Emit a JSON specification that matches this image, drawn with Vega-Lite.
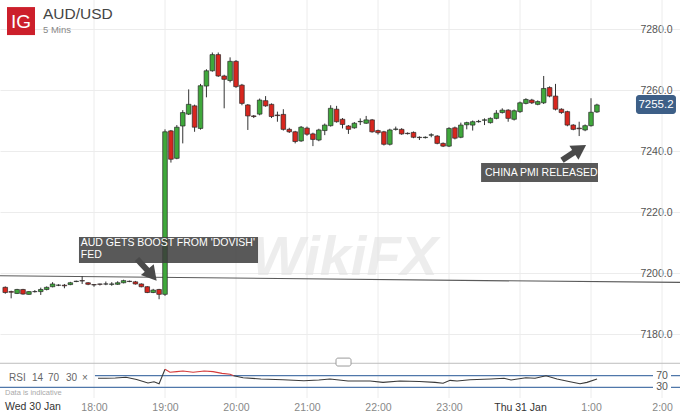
{
"$schema":"https://vega.github.io/schema/vega-lite/v6.json",
"width":680,"height":398,"padding":{"left":0,"top":0,"right":0,"bottom":17},"autosize":{"type":"none"},
"background":"#ffffff",
"config":{"view":{"stroke":null},"font":"Liberation Sans"},
"datasets":{
"candles":[
{"m":-15,"o":7195.3,"h":7195.6,"l":7193.2,"c":7193.6},
{"m":-10,"o":7193.9,"h":7194.2,"l":7191.7,"c":7193.7},
{"m":-5,"o":7193.3,"h":7194.8,"l":7193.1,"c":7194.6},
{"m":0,"o":7194.6,"h":7194.8,"l":7192.9,"c":7193.1},
{"m":5,"o":7193.0,"h":7194.0,"l":7192.9,"c":7193.9},
{"m":10,"o":7193.9,"h":7194.4,"l":7193.6,"c":7193.9},
{"m":15,"o":7193.9,"h":7195.2,"l":7192.8,"c":7194.6},
{"m":20,"o":7194.6,"h":7195.6,"l":7194.3,"c":7195.3},
{"m":25,"o":7195.5,"h":7197.0,"l":7195.3,"c":7196.4},
{"m":30,"o":7196.0,"h":7196.3,"l":7195.7,"c":7196.0},
{"m":35,"o":7196.0,"h":7196.4,"l":7195.0,"c":7195.8},
{"m":40,"o":7196.2,"h":7197.1,"l":7196.0,"c":7196.8},
{"m":45,"o":7197.2,"h":7197.5,"l":7197.0,"c":7197.3},
{"m":50,"o":7197.5,"h":7199.0,"l":7196.4,"c":7197.4},
{"m":55,"o":7196.8,"h":7197.0,"l":7196.0,"c":7196.3},
{"m":60,"o":7196.2,"h":7196.3,"l":7195.5,"c":7196.1},
{"m":65,"o":7196.4,"h":7196.5,"l":7195.9,"c":7196.3},
{"m":70,"o":7196.4,"h":7197.2,"l":7196.0,"c":7196.4},
{"m":75,"o":7196.3,"h":7197.0,"l":7195.8,"c":7196.4},
{"m":80,"o":7196.3,"h":7197.3,"l":7196.1,"c":7196.8},
{"m":85,"o":7196.8,"h":7197.8,"l":7196.6,"c":7197.5},
{"m":90,"o":7197.3,"h":7197.5,"l":7197.0,"c":7197.2},
{"m":95,"o":7197.1,"h":7197.4,"l":7196.2,"c":7196.4},
{"m":100,"o":7196.4,"h":7196.6,"l":7195.3,"c":7195.5},
{"m":105,"o":7195.5,"h":7195.7,"l":7193.4,"c":7193.6},
{"m":110,"o":7193.6,"h":7194.8,"l":7193.4,"c":7194.4},
{"m":115,"o":7194.6,"h":7194.8,"l":7191.4,"c":7193.0},
{"m":120,"o":7193.0,"h":7247.1,"l":7192.5,"c":7246.3},
{"m":125,"o":7246.6,"h":7246.9,"l":7236.2,"c":7237.3},
{"m":130,"o":7237.6,"h":7248.5,"l":7237.3,"c":7247.8},
{"m":135,"o":7248.2,"h":7253.4,"l":7242.5,"c":7252.6},
{"m":140,"o":7252.1,"h":7260.2,"l":7251.8,"c":7255.3},
{"m":145,"o":7254.8,"h":7255.2,"l":7246.3,"c":7247.8},
{"m":150,"o":7247.4,"h":7262.0,"l":7247.0,"c":7261.4},
{"m":155,"o":7261.3,"h":7266.8,"l":7257.6,"c":7266.3},
{"m":160,"o":7266.3,"h":7272.3,"l":7266.0,"c":7271.6},
{"m":165,"o":7271.6,"h":7272.3,"l":7264.3,"c":7264.6},
{"m":170,"o":7264.6,"h":7265.0,"l":7254.0,"c":7263.5},
{"m":175,"o":7263.1,"h":7270.7,"l":7262.5,"c":7269.4},
{"m":180,"o":7269.4,"h":7269.8,"l":7260.7,"c":7261.1},
{"m":185,"o":7261.6,"h":7262.0,"l":7255.0,"c":7255.6},
{"m":190,"o":7255.1,"h":7255.4,"l":7246.9,"c":7251.5},
{"m":195,"o":7251.5,"h":7251.8,"l":7250.8,"c":7251.3},
{"m":200,"o":7252.1,"h":7257.2,"l":7251.7,"c":7256.7},
{"m":205,"o":7256.5,"h":7258.0,"l":7254.5,"c":7254.8},
{"m":210,"o":7255.3,"h":7255.6,"l":7250.8,"c":7251.3},
{"m":215,"o":7251.8,"h":7252.9,"l":7249.6,"c":7251.6},
{"m":220,"o":7252.0,"h":7253.7,"l":7246.7,"c":7247.1},
{"m":225,"o":7247.1,"h":7247.6,"l":7245.9,"c":7246.3},
{"m":230,"o":7246.3,"h":7246.6,"l":7242.5,"c":7243.1},
{"m":235,"o":7243.3,"h":7248.2,"l":7243.0,"c":7247.8},
{"m":240,"o":7247.5,"h":7248.0,"l":7245.0,"c":7245.5},
{"m":245,"o":7245.6,"h":7246.0,"l":7241.6,"c":7243.8},
{"m":250,"o":7243.6,"h":7247.3,"l":7243.2,"c":7246.9},
{"m":255,"o":7246.7,"h":7249.0,"l":7245.2,"c":7248.5},
{"m":260,"o":7248.3,"h":7255.0,"l":7248.0,"c":7254.0},
{"m":265,"o":7253.7,"h":7254.8,"l":7249.3,"c":7249.6},
{"m":270,"o":7250.4,"h":7250.8,"l":7247.4,"c":7248.7},
{"m":275,"o":7248.2,"h":7248.5,"l":7245.6,"c":7247.1},
{"m":280,"o":7247.6,"h":7249.5,"l":7247.3,"c":7249.1},
{"m":285,"o":7249.6,"h":7250.7,"l":7248.5,"c":7249.7},
{"m":290,"o":7249.1,"h":7251.5,"l":7248.9,"c":7250.2},
{"m":295,"o":7250.2,"h":7250.5,"l":7246.0,"c":7246.3},
{"m":300,"o":7246.7,"h":7247.0,"l":7245.4,"c":7246.0},
{"m":305,"o":7246.3,"h":7246.6,"l":7241.8,"c":7242.2},
{"m":310,"o":7242.2,"h":7247.3,"l":7241.8,"c":7246.9},
{"m":315,"o":7247.1,"h":7248.0,"l":7246.7,"c":7247.2},
{"m":320,"o":7247.1,"h":7247.5,"l":7245.3,"c":7245.6},
{"m":325,"o":7245.8,"h":7246.1,"l":7245.4,"c":7245.7},
{"m":330,"o":7246.1,"h":7246.4,"l":7244.2,"c":7244.5},
{"m":335,"o":7244.5,"h":7244.8,"l":7243.6,"c":7244.4},
{"m":340,"o":7244.4,"h":7244.8,"l":7244.1,"c":7244.5},
{"m":345,"o":7245.2,"h":7245.8,"l":7244.5,"c":7245.3},
{"m":350,"o":7244.9,"h":7245.2,"l":7242.2,"c":7242.5},
{"m":355,"o":7242.5,"h":7242.8,"l":7241.3,"c":7241.6},
{"m":360,"o":7241.6,"h":7247.8,"l":7241.3,"c":7247.4},
{"m":365,"o":7247.6,"h":7248.0,"l":7243.8,"c":7244.2},
{"m":370,"o":7244.5,"h":7249.3,"l":7244.2,"c":7248.5},
{"m":375,"o":7248.6,"h":7249.6,"l":7247.1,"c":7249.3},
{"m":380,"o":7248.5,"h":7250.0,"l":7246.7,"c":7249.6},
{"m":385,"o":7249.6,"h":7250.2,"l":7249.3,"c":7249.7},
{"m":390,"o":7250.1,"h":7250.7,"l":7248.5,"c":7250.2},
{"m":395,"o":7249.3,"h":7251.0,"l":7249.0,"c":7250.7},
{"m":400,"o":7250.7,"h":7253.4,"l":7250.4,"c":7252.4},
{"m":405,"o":7252.6,"h":7254.0,"l":7252.3,"c":7253.4},
{"m":410,"o":7253.4,"h":7253.7,"l":7249.6,"c":7250.7},
{"m":415,"o":7250.4,"h":7253.6,"l":7250.0,"c":7253.2},
{"m":420,"o":7252.9,"h":7256.2,"l":7252.5,"c":7255.8},
{"m":425,"o":7255.6,"h":7257.3,"l":7255.3,"c":7256.9},
{"m":430,"o":7256.7,"h":7257.1,"l":7255.4,"c":7255.8},
{"m":435,"o":7255.3,"h":7256.6,"l":7255.0,"c":7256.2},
{"m":440,"o":7255.8,"h":7264.6,"l":7255.4,"c":7260.5},
{"m":445,"o":7260.8,"h":7261.2,"l":7257.6,"c":7258.0},
{"m":450,"o":7258.0,"h":7262.0,"l":7253.3,"c":7253.7},
{"m":455,"o":7253.7,"h":7254.0,"l":7252.2,"c":7252.6},
{"m":460,"o":7252.9,"h":7253.2,"l":7248.1,"c":7248.5},
{"m":465,"o":7248.5,"h":7248.8,"l":7246.8,"c":7247.1},
{"m":470,"o":7247.5,"h":7249.6,"l":7244.9,"c":7247.3},
{"m":475,"o":7246.9,"h":7248.7,"l":7246.5,"c":7248.3},
{"m":480,"o":7248.3,"h":7257.3,"l":7248.0,"c":7252.7},
{"m":485,"o":7252.8,"h":7255.5,"l":7252.5,"c":7255.1}
]},
"encoding":{"x":{"field":"m","type":"quantitative","scale":{"domain":[-19.44,555.2],"nice":false,"zero":false,"padding":0},"axis":{"values":[60,120,180,240,300,360,420,480,540],"labelExpr":"datum.value == 420 ? 'Thu 31 Jan' : ((floor(datum.value/60)+17)%24) + ':00'","grid":false,"domain":false,"ticks":false,"tickSize":0,"labelPadding":9,"labelBaseline":"middle","labelFontSize":10.5,"labelColor":{"condition":{"test":"datum.value == 420","value":"#333333"},"value":"#888888"},"labelFlush":false,"title":null}}},
"layer":[
{"data":{"values":[{"m":60},{"m":120},{"m":180},{"m":240},{"m":300},{"m":360},{"m":420},{"m":480},{"m":540}]},"mark":{"type":"rule","color":"#ececec","strokeWidth":1}},
{"data":{"values":[{"m":-19.44,"p":7199.1},{"m":555.2,"p":7196.9}]},"mark":{"type":"line","color":"#5a5a5a","strokeWidth":1.2},
 "encoding":{"y":{"field":"p","type":"quantitative","scale":{"domain":[7180,7280],"range":[334,29],"nice":false,"zero":false,"padding":0},"axis":{"orient":"right","values":[7180,7200,7220,7240,7260,7280],"format":".1f","grid":true,"gridColor":"#ececec","domain":false,"ticks":false,"tickSize":0,"labelAlign":"right","labelPadding":-8,"labelBaseline":"middle","labelFontSize":10.5,"labelColor":"#555555","title":null}}}},
{"data":{"values":[{"m":272,"p":7204.9,"t":"WikiFX"}]},"mark":{"type":"text","fontSize":56,"fontWeight":"bold","fontStyle":"italic","color":"#e2e2e2","opacity":0.6,"align":"center","baseline":"middle"},
 "encoding":{"y":{"field":"p","type":"quantitative","scale":{"domain":[7180,7280],"range":[334,29],"nice":false,"zero":false,"padding":0},"axis":null},"text":{"field":"t"}}},
{"data":{"name":"candles"},"mark":{"type":"rule","color":"#333333","strokeWidth":1},
 "encoding":{"y":{"field":"l","type":"quantitative","scale":{"domain":[7180,7280],"range":[334,29],"nice":false,"zero":false,"padding":0},"axis":null},"y2":{"field":"h"}}},
{"data":{"name":"candles"},"mark":{"type":"bar","size":4.6,"stroke":"#2a2a2a","strokeWidth":0.7},
 "encoding":{"y":{"field":"o","type":"quantitative","scale":{"domain":[7180,7280],"range":[334,29],"nice":false,"zero":false,"padding":0},"axis":null},"y2":{"field":"c"},
  "color":{"condition":{"test":"datum.c >= datum.o","value":"#3fa83b"},"value":"#d8261e"}}},
{"data":{"values":[{"m":47.3,"m2":198.6,"p":7211.8,"p2":7203.3},{"m":387.1,"m2":485.9,"p":7236.1,"p2":7229.8}]},"mark":{"type":"rect","color":"#3c3c3c","opacity":0.85},
 "encoding":{"x2":{"field":"m2"},"y":{"field":"p","type":"quantitative","scale":{"domain":[7180,7280],"range":[334,29],"nice":false,"zero":false,"padding":0},"axis":null},"y2":{"field":"p2"}}},
{"data":{"values":[{"m":48.8,"p":7209.8,"t":"AUD GETS BOOST FROM 'DOVISH'"},{"m":48.8,"p":7205.8,"t":"FED"},{"m":390.4,"p":7232.95,"t":"CHINA PMI RELEASED"}]},
 "mark":{"type":"text","fontSize":10.5,"color":"#ffffff","align":"left","baseline":"middle"},
 "encoding":{"y":{"field":"p","type":"quantitative","scale":{"domain":[7180,7280],"range":[334,29],"nice":false,"zero":false,"padding":0},"axis":null},"text":{"field":"t"}}},
{"data":{"values":[{"m":96.3,"p":7204.6,"a":"1"},{"m":106.5,"p":7200.3,"a":"1"},{"m":455.5,"p":7237.0,"a":"2"},{"m":467.3,"p":7240.0,"a":"2"}]},
 "mark":{"type":"line","color":"#4a4a4a","strokeWidth":6},
 "encoding":{"y":{"field":"p","type":"quantitative","scale":{"domain":[7180,7280],"range":[334,29],"nice":false,"zero":false,"padding":0},"axis":null},"detail":{"field":"a"}}},
{"data":{"values":[{"m":109,"p":7199.3}]},"mark":{"type":"point","shape":"triangle-up","filled":true,"size":280,"angle":140,"color":"#4a4a4a","opacity":1},
 "encoding":{"y":{"field":"p","type":"quantitative","scale":{"domain":[7180,7280],"range":[334,29],"nice":false,"zero":false,"padding":0},"axis":null}}},
{"data":{"values":[{"m":470.7,"p":7240.7}]},"mark":{"type":"point","shape":"triangle-up","filled":true,"size":280,"angle":57,"color":"#4a4a4a","opacity":1},
 "encoding":{"y":{"field":"p","type":"quantitative","scale":{"domain":[7180,7280],"range":[334,29],"nice":false,"zero":false,"padding":0},"axis":null}}},
{"data":{"values":[{"m":518.0,"m2":551.8,"p":7258.4,"p2":7252.1}]},"mark":{"type":"rect","color":"#3d5f87","cornerRadius":3},
 "encoding":{"x2":{"field":"m2"},"y":{"field":"p","type":"quantitative","scale":{"domain":[7180,7280],"range":[334,29],"nice":false,"zero":false,"padding":0},"axis":null},"y2":{"field":"p2"}}},
{"data":{"values":[{"m":534.9,"p":7255.2,"t":"7255.2"}]},"mark":{"type":"text","fontSize":11.5,"color":"#ffffff","align":"center","baseline":"middle"},
 "encoding":{"y":{"field":"p","type":"quantitative","scale":{"domain":[7180,7280],"range":[334,29],"nice":false,"zero":false,"padding":0},"axis":null},"text":{"field":"t"}}},
{"data":{"values":[{"m":-1.7,"p":7282.6}]},"mark":{"type":"point","shape":"square","filled":true,"size":784,"color":"#cc1f2b","opacity":1},
 "encoding":{"y":{"field":"p","type":"quantitative","scale":{"domain":[7180,7280],"range":[334,29],"nice":false,"zero":false,"padding":0},"axis":null}}},
{"data":{"values":[{"m":-1.7,"p":7282.4,"t":"IG"}]},"mark":{"type":"text","fontSize":19,"color":"#ffffff","align":"center","baseline":"middle"},
 "encoding":{"y":{"field":"p","type":"quantitative","scale":{"domain":[7180,7280],"range":[334,29],"nice":false,"zero":false,"padding":0},"axis":null},"text":{"field":"t"}}},
{"data":{"values":[{"m":16.9,"p":7284.9,"t":"AUD/USD"}]},"mark":{"type":"text","fontSize":15.5,"color":"#444444","align":"left","baseline":"middle"},
 "encoding":{"y":{"field":"p","type":"quantitative","scale":{"domain":[7180,7280],"range":[334,29],"nice":false,"zero":false,"padding":0},"axis":null},"text":{"field":"t"}}},
{"data":{"values":[{"m":16.9,"p":7279.7,"t":"5 Mins"}]},"mark":{"type":"text","fontSize":9.5,"color":"#888888","align":"left","baseline":"middle"},
 "encoding":{"y":{"field":"p","type":"quantitative","scale":{"domain":[7180,7280],"range":[334,29],"nice":false,"zero":false,"padding":0},"axis":null},"text":{"field":"t"}}},
{"data":{"values":[{"m":-19.44,"m2":555.2,"p":7170.4}]},"mark":{"type":"rule","color":"#bdbdbd","strokeWidth":1},
 "encoding":{"x2":{"field":"m2"},"y":{"field":"p","type":"quantitative","scale":{"domain":[7180,7280],"range":[334,29],"nice":false,"zero":false,"padding":0},"axis":null}}},
{"data":{"values":[{"m":264.5,"m2":277.2,"p":7172.1,"p2":7169.5}]},"mark":{"type":"rect","fill":"#ffffff","stroke":"#9a9a9a","strokeWidth":1,"cornerRadius":2},
 "encoding":{"x2":{"field":"m2"},"y":{"field":"p","type":"quantitative","scale":{"domain":[7180,7280],"range":[334,29],"nice":false,"zero":false,"padding":0},"axis":null},"y2":{"field":"p2"}}},
{"data":{"values":[{"m":-15.2,"p":7156.1,"t":"Wed 30 Jan"}]},"mark":{"type":"text","fontSize":10.5,"color":"#333333","align":"left","baseline":"middle"},
 "encoding":{"y":{"field":"p","type":"quantitative","scale":{"domain":[7180,7280],"range":[334,29],"nice":false,"zero":false,"padding":0},"axis":null},"text":{"field":"t"}}},
{"data":{"values":[{"m":60.8,"m2":555.2,"r":70},{"m":-19.44,"m2":555.2,"r":30}]},"mark":{"type":"rule","color":"#4f77aa","strokeWidth":1.2},
 "encoding":{"x2":{"field":"m2"},"y":{"field":"r","type":"quantitative","scale":{"domain":[30,70],"range":[387.3,375.7],"nice":false,"zero":false,"padding":0},"axis":null}}},
{"data":{"values":[{"m":532.4,"m2":547.6,"r":64,"r2":76},{"m":532.4,"m2":547.6,"r":24,"r2":36}]},"mark":{"type":"rect","color":"#ffffff"},
 "encoding":{"x2":{"field":"m2"},"y":{"field":"r","type":"quantitative","scale":{"domain":[30,70],"range":[387.3,375.7],"nice":false,"zero":false,"padding":0},"axis":null},"y2":{"field":"r2"}}},
{"data":{"values":[
{"m":63.4,"r":61,"s":"a"},{"m":70,"r":61,"s":"a"},{"m":78,"r":62,"s":"a"},{"m":87,"r":64.5,"s":"a"},{"m":96,"r":57,"s":"a"},{"m":105.6,"r":45,"s":"a"},{"m":110.7,"r":49,"s":"a"},{"m":115,"r":42,"s":"a"},{"m":120,"r":92,"s":"a"},
{"m":120,"r":92,"s":"h"},{"m":124.2,"r":82,"s":"h"},{"m":130,"r":84,"s":"h"},{"m":135.2,"r":86,"s":"h"},{"m":143.7,"r":82,"s":"h"},{"m":149.6,"r":84.5,"s":"h"},{"m":153,"r":86,"s":"h"},{"m":160.6,"r":84,"s":"h"},{"m":168.2,"r":78,"s":"h"},{"m":175,"r":74.8,"s":"h"},{"m":178,"r":70,"s":"h"},
{"m":178,"r":70,"s":"b"},{"m":186,"r":63,"s":"b"},{"m":201,"r":58.6,"s":"b"},{"m":219.6,"r":56,"s":"b"},{"m":237.4,"r":52.8,"s":"b"},{"m":250,"r":55,"s":"b"},{"m":259.4,"r":58.6,"s":"b"},{"m":274.7,"r":51.7,"s":"b"},{"m":293.3,"r":51.7,"s":"b"},{"m":304.2,"r":47,"s":"b"},{"m":318.6,"r":51.7,"s":"b"},{"m":335,"r":50,"s":"b"},{"m":348.2,"r":47,"s":"b"},{"m":355,"r":43.8,"s":"b"},{"m":360.9,"r":54,"s":"b"},{"m":366.8,"r":51.7,"s":"b"},{"m":377.8,"r":56,"s":"b"},{"m":395.5,"r":58.6,"s":"b"},{"m":406.5,"r":61,"s":"b"},{"m":412.4,"r":55,"s":"b"},{"m":425,"r":63,"s":"b"},{"m":432.7,"r":61,"s":"b"},{"m":442,"r":70,"s":"b"},{"m":451.3,"r":58.6,"s":"b"},{"m":462.3,"r":49,"s":"b"},{"m":470.7,"r":42.4,"s":"b"},{"m":476.6,"r":47,"s":"b"},{"m":485.1,"r":58.6,"s":"b"}
]},"mark":{"type":"line","strokeWidth":1.1},
 "encoding":{"y":{"field":"r","type":"quantitative","scale":{"domain":[30,70],"range":[387.3,375.7],"nice":false,"zero":false,"padding":0},"axis":null},
  "color":{"field":"s","type":"nominal","scale":{"domain":["a","h","b"],"range":["#3a3a3a","#d43a3a","#3a3a3a"]},"legend":null}}},
{"data":{"values":[{"m":540,"r":70,"t":"70"},{"m":540,"r":30,"t":"30"}]},"mark":{"type":"text","fontSize":10.5,"color":"#555555","align":"center","baseline":"middle"},
 "encoding":{"y":{"field":"r","type":"quantitative","scale":{"domain":[30,70],"range":[387.3,375.7],"nice":false,"zero":false,"padding":0},"axis":null},"text":{"field":"t"}}},
{"data":{"values":[{"m":-11.8,"r":63,"t":"RSI"},{"m":7.6,"r":63,"t":"14"},{"m":21.1,"r":63,"t":"70"},{"m":36.3,"r":63,"t":"30"},{"m":49.9,"r":63,"t":"×"}]},
 "mark":{"type":"text","fontSize":10,"color":"#666666","align":"left","baseline":"middle"},
 "encoding":{"y":{"field":"r","type":"quantitative","scale":{"domain":[30,70],"range":[387.3,375.7],"nice":false,"zero":false,"padding":0},"axis":null},"text":{"field":"t"}}},
{"data":{"values":[{"m":-15.2,"r":10.3,"t":"Data is indicative"}]},"mark":{"type":"text","fontSize":7.5,"color":"#aaaaaa","align":"left","baseline":"middle"},
 "encoding":{"y":{"field":"r","type":"quantitative","scale":{"domain":[30,70],"range":[387.3,375.7],"nice":false,"zero":false,"padding":0},"axis":null},"text":{"field":"t"}}}
],
"resolve":{"scale":{"y":"independent"}}
}
